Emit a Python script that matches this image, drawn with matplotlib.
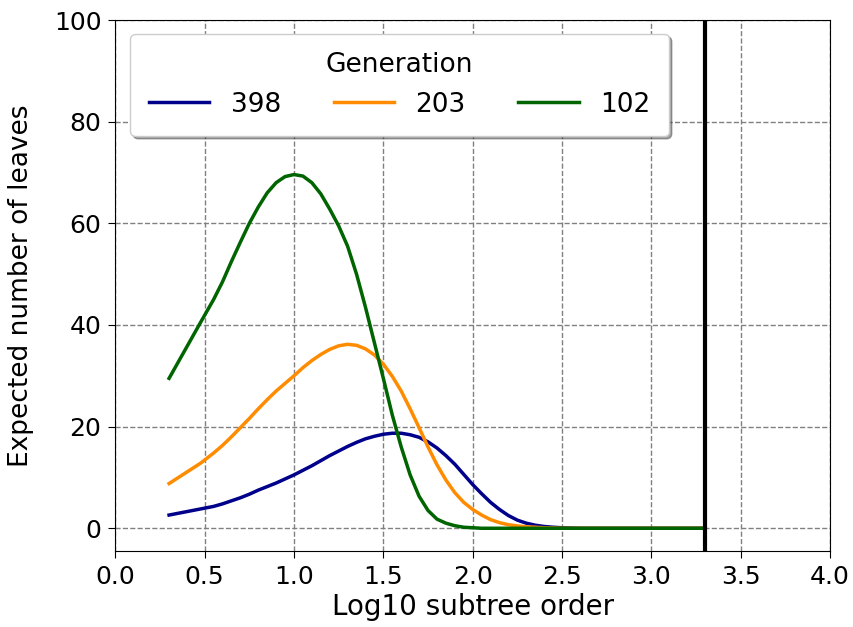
import numpy as np
import matplotlib.pyplot as plt

# log10 of subtree order
x = [0.301, 0.477, 0.55, 0.6, 0.65, 0.7, 0.75, 0.8, 0.85, 0.9, 0.95, 1.0, 1.05, 1.1,
     1.15, 1.2, 1.25, 1.3, 1.35, 1.4, 1.45, 1.5, 1.55, 1.6, 1.65, 1.7, 1.75, 1.8,
     1.85, 1.9, 1.95, 2.0, 2.05, 2.1, 2.15, 2.2, 2.25, 2.3, 2.35, 2.4, 2.45, 2.5,
     2.55, 2.6, 3.0, 3.301]

gen_398 = [2.6, 3.8, 4.3, 4.8, 5.4, 6.0, 6.7, 7.5, 8.2, 8.9, 9.7, 10.5, 11.4, 12.3,
           13.3, 14.3, 15.2, 16.1, 16.9, 17.6, 18.1, 18.5, 18.7, 18.7, 18.4, 17.9, 17.0, 15.8,
           14.3, 12.6, 10.6, 8.6, 6.8, 5.1, 3.7, 2.5, 1.6, 1.0, 0.6, 0.35, 0.2, 0.1,
           0.05, 0.0, 0.0, 0.0]
gen_203 = [8.8, 12.8, 14.8, 16.3, 18.0, 19.8, 21.6, 23.5, 25.3, 27.0, 28.5, 30.0, 31.6, 33.0,
           34.2, 35.2, 35.9, 36.2, 36.0, 35.3, 34.1, 32.3, 29.9, 27.0, 23.5, 19.8, 16.0, 12.5,
           9.5, 7.0, 5.1, 3.7, 2.6, 1.7, 1.1, 0.7, 0.45, 0.3, 0.2, 0.1, 0.05, 0.0,
           0.0, 0.0, 0.0, 0.0]
gen_102 = [29.5, 40.5, 45.0, 48.5, 52.5, 56.3, 60.0, 63.2, 66.0, 68.0, 69.2, 69.6, 69.3, 68.0,
           65.8, 62.8, 59.5, 55.5, 50.0, 43.5, 36.5, 29.5, 22.3, 16.0, 10.5, 6.3, 3.5, 1.8,
           1.0, 0.5, 0.2, 0.1, 0.0, 0.0, 0.0, 0.0, 0.0, 0.0, 0.0, 0.0, 0.0, 0.0,
           0.0, 0.0, 0.0, 0.0]

max_order = 3.301

fig = plt.figure(figsize=(8.54, 6.27), dpi=100)
ax = fig.add_axes([0.135, 0.121, 0.837, 0.847])

ax.plot(x, gen_398, color='darkblue', linewidth=2.5, label='398')
ax.plot(x, gen_203, color='darkorange', linewidth=2.5, label='203')
ax.plot(x, gen_102, color='darkgreen', linewidth=2.5, label='102')
ax.axvline(max_order, color='black', linewidth=3)

ax.set_xlim(0, 4)
ax.set_ylim(-4.5, 100)
ax.grid(True, linestyle='--', color='gray', linewidth=1)
ax.set_xlabel('Log10 subtree order', fontsize=20, labelpad=3)
ax.set_ylabel('Expected number of leaves', fontsize=19, labelpad=14)
ax.tick_params(labelsize=18, length=5, pad=5)

leg = ax.legend(title='Generation', ncol=3, fontsize=19, title_fontsize=19,
                shadow=True, loc='upper left', bbox_to_anchor=(0.021, 0.974),
                borderaxespad=0, handlelength=2.3, columnspacing=2.0, borderpad=0.7)

plt.savefig('out.png')
